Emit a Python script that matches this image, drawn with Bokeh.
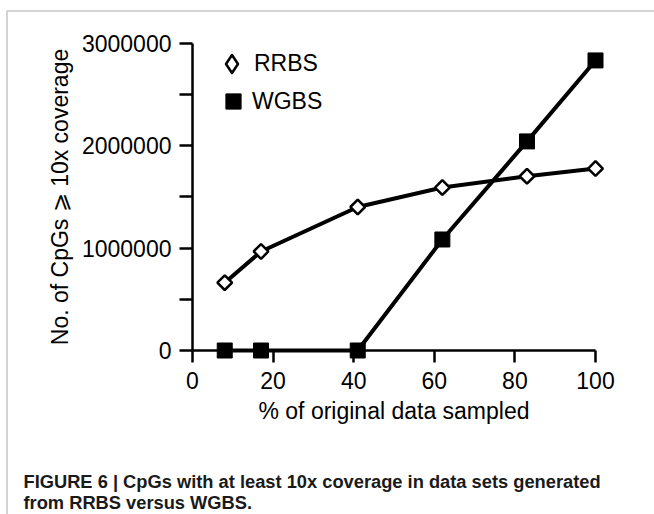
import numpy as np
from bokeh.plotting import figure
from bokeh.models import (Range1d, FixedTicker, BasicTickFormatter, Legend,
                          LegendItem, Label, BoxAnnotation, ColumnDataSource)
from bokeh.embed import file_html
from bokeh.resources import INLINE

# ---------------- data ----------------
pct_sampled = [8, 17, 41, 62, 83, 100]
rrbs = [662000, 966000, 1400000, 1590000, 1700000, 1775000]
wgbs = [0, 0, 0, 1083000, 2040000, 2830000]
x_ticks = [0, 20, 40, 60, 80, 100]
y_ticks = [0, 1000000, 2000000, 3000000]
y_minor_ticks = [500000, 1500000, 2500000]
series_names = ["RRBS", "WGBS"]
x_label = "% of original data sampled"
y_label = "No. of CpGs \u2A7E 10x coverage"
caption_lines = ["FIGURE 6 | CpGs with at least 10x coverage in data sets generated",
                 "from RRBS versus WGBS."]

# ---------------- layout ----------------
W, H = 654, 514
X0_PX, X100_PX = 192.0, 595.0      # screen position of x=0 and x=100
Y0_PX, YTOP_PX = 350.0, 42.5       # screen position of y=0 and y=3,000,000
xs = (X100_PX - X0_PX) / 100.0
ys = (Y0_PX - YTOP_PX) / 3e6
x_range = Range1d(-X0_PX / xs, 100 + (W - X100_PX) / xs)
y_range = Range1d(-(H - Y0_PX) / ys, Y0_PX / ys)

FONT = "Liberation Sans"
BLACK = "#000000"

p = figure(width=W, height=H, x_range=x_range, y_range=y_range,
           output_backend="svg", toolbar_location=None, min_border=0,
           background_fill_color="white", border_fill_color="white")
p.outline_line_color = None
p.grid.visible = False

# axes
xa = p.xaxis[0]
xa.fixed_location = 0
xa.bounds = (0, 100)
xa.ticker = FixedTicker(ticks=x_ticks, minor_ticks=[])
xa.axis_line_width = 2.5
xa.axis_line_color = BLACK
xa.major_tick_line_width = 2.5
xa.major_tick_line_color = BLACK
xa.major_tick_in = 0
xa.major_tick_out = 12
xa.minor_tick_line_color = None
xa.major_label_text_font = FONT
xa.major_label_text_font_size = "23px"
xa.major_label_text_color = BLACK
xa.major_label_standoff = 9
xa.axis_label = x_label
xa.axis_label_text_font = FONT
xa.axis_label_text_font_size = "23px"
xa.axis_label_text_font_style = "normal"
xa.axis_label_text_color = BLACK
xa.axis_label_standoff = 6

ya = p.yaxis[0]
ya.fixed_location = 0
ya.bounds = (0, 3000000)
ya.ticker = FixedTicker(ticks=y_ticks, minor_ticks=y_minor_ticks)
ya.formatter = BasicTickFormatter(use_scientific=False)
ya.axis_line_width = 2.5
ya.axis_line_color = BLACK
ya.major_tick_line_width = 2.5
ya.major_tick_line_color = BLACK
ya.major_tick_in = 0
ya.major_tick_out = 13
ya.minor_tick_line_width = 2.5
ya.minor_tick_line_color = BLACK
ya.minor_tick_in = 0
ya.minor_tick_out = 13
ya.major_label_text_font = FONT
ya.major_label_text_font_size = "23px"
ya.major_label_text_color = BLACK
ya.major_label_standoff = 8
ya.axis_label = y_label
ya.axis_label_text_font = FONT
ya.axis_label_text_font_size = "23px"
ya.axis_label_text_font_style = "normal"
ya.axis_label_text_color = BLACK
ya.axis_label_standoff = 6

src = ColumnDataSource(dict(pct=pct_sampled, rrbs=rrbs, wgbs=wgbs))

# lines
p.line("pct", "rrbs", source=src, line_color=BLACK, line_width=4)
p.line("pct", "wgbs", source=src, line_color=BLACK, line_width=4)

# legend key for RRBS: legends never rotate glyphs, so a diamond-marker
# renderer of the same series supplies the key swatch (in the plot it is tiny
# and fully covered by the open diamonds drawn on top of it)
r_rrbs_key = p.scatter("pct", "rrbs", source=src, marker="diamond", size=1,
                       fill_color="white", line_color=BLACK, line_width=2.5,
                       line_join="round")

# markers (open diamonds = squares turned by 45 degrees)
r_rrbs = p.scatter("pct", "rrbs", source=src, marker="square", angle=np.pi / 4,
                   size=10.4, fill_color="white", line_color=BLACK, line_width=2.5)
r_wgbs = p.scatter("pct", "wgbs", source=src, marker="square", size=15,
                   fill_color=BLACK, line_color=BLACK, line_width=1)

# legends (one per entry so each glyph can have its own size)
def make_legend(name, renderer, glyph, loc, standoff):
    return Legend(items=[LegendItem(label=name, renderers=[renderer])],
                  location=loc, glyph_width=glyph, glyph_height=glyph,
                  label_height=glyph, label_standoff=standoff,
                  label_text_font=FONT, label_text_font_size="23px",
                  label_text_color=BLACK, padding=0, margin=0, spacing=0,
                  border_line_color=None, background_fill_alpha=0)

p.add_layout(make_legend(series_names[0], r_rrbs_key, 45, (209, 428), -2))
p.add_layout(make_legend(series_names[1], r_wgbs, 38, (214, 394), -2))

# caption
for i, line in enumerate(caption_lines):
    p.add_layout(Label(x=23, y=33 - 21 * i, x_units="screen", y_units="screen",
                       text=line, text_font=FONT, text_font_size="18.3px",
                       text_font_style="bold", text_color="#1a1a1a",
                       text_baseline="alphabetic"))

# panel frame (top and left edges)
p.add_layout(BoxAnnotation(left=6.5, right=W + 20, top=H - 10.5, bottom=-20,
                           left_units="screen", right_units="screen",
                           top_units="screen", bottom_units="screen",
                           fill_alpha=0, line_color="#6e6e6e", line_width=2))

open("out.html", "w").write(file_html(p, INLINE))
